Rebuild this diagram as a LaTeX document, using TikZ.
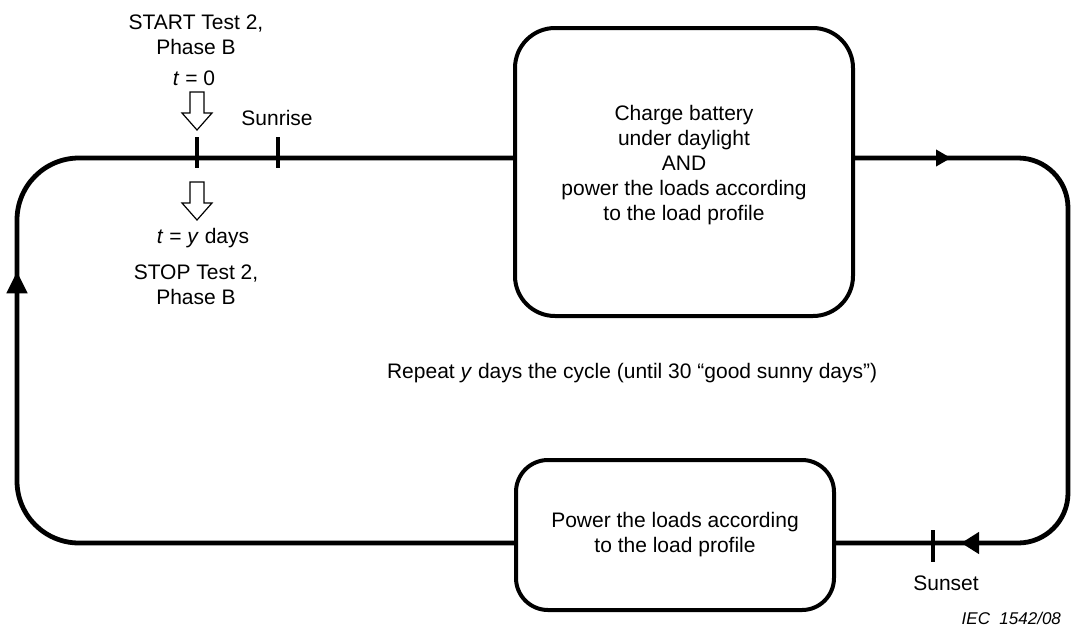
\documentclass[tikz,border=0pt]{standalone}
\usepackage{fontspec}
\setmainfont{Liberation Sans}
\usetikzlibrary{arrows.meta, decorations.markings, positioning}

\tikzset{
  cycleline/.style={line width=2.4pt},
  box/.style={draw, line width=2pt, rounded corners=20pt, align=center},
  tick/.style={line width=2.2pt},
  hollow/.style={draw, line width=0.6pt, fill=white},
  downarrow/.pic={\draw[hollow] (-7,0) -- (7,0) -- (7,21) -- (15,21) -- (0,38) -- (-15,21) -- (-7,21) -- cycle;},
}

\begin{document}
\begin{tikzpicture}[x=0.5pt, y=-0.5pt, font=\fontsize{10.5}{12.5}\selectfont]
\useasboundingbox (0,0) rectangle (1072,628);
% Day and night boxes
\node[box, minimum width=169pt, minimum height=144pt,
  label={[align=center, yshift=3.5pt]center:Charge battery\\under daylight\\AND\\power the loads according\\to the load profile}]
  (charge) at (684,172) {};
\node[box, rounded corners=16pt, minimum width=159pt, minimum height=75pt] (night) at (675,535)
  {Power the loads according\\to the load profile};
% Corners of the cycle
\coordinate (tl) at (17,158);
\coordinate (bl) at (17,543);
\coordinate (tr) at (1068,158);
\coordinate (br) at (1068,543);
% Cycle
\draw[cycleline, rounded corners=31pt, postaction={decorate, decoration={markings,
    mark=at position 371pt with {\arrow{Triangle[length=11pt, width=10pt]}}}}]
  (night.west |- bl) -- (bl) -- (tl) -- (charge.west |- tl);
\draw[cycleline, rounded corners=25pt, postaction={decorate, decoration={markings,
    mark=at position 48pt with {\arrow{Triangle[length=7.5pt, width=8pt]}},
    mark=at position 331pt with {\arrow{Triangle[length=9pt, width=10.5pt]}}}}]
  (charge.east |- tr) -- (tr) -- (br) -- (night.east |- br);
% Start, sunrise and sunset marks
\draw[tick] (197,137) -- (197,168);
\draw[tick] (278,137) -- (278,168);
\draw[tick] (933,530) -- (933,562);
\pic at (197,92) {downarrow};
\pic at (197,182) {downarrow};
% Labels
\node[align=center] (start) at (196,35) {START Test 2,\\Phase B};
\node (tzero) at (194,78) {\textit{t} = 0};
\node (sunrise) at (277,118) {Sunrise};
\node (tend) at (203,238) {\textit{t} = \textit{y} days};
\node[align=center] (stop) at (196,285) {STOP Test 2,\\Phase B};
\node[anchor=west] (repeat) at (380,373) {Repeat \textit{y} days the cycle (until 30 “good sunny days”)};
\node (sunset) at (946,583) {Sunset};
\node[anchor=east, font=\fontsize{8.5}{10}\selectfont\itshape] (iec) at (1068,618) {IEC\ \ 1542/08};
\end{tikzpicture}
\end{document}
